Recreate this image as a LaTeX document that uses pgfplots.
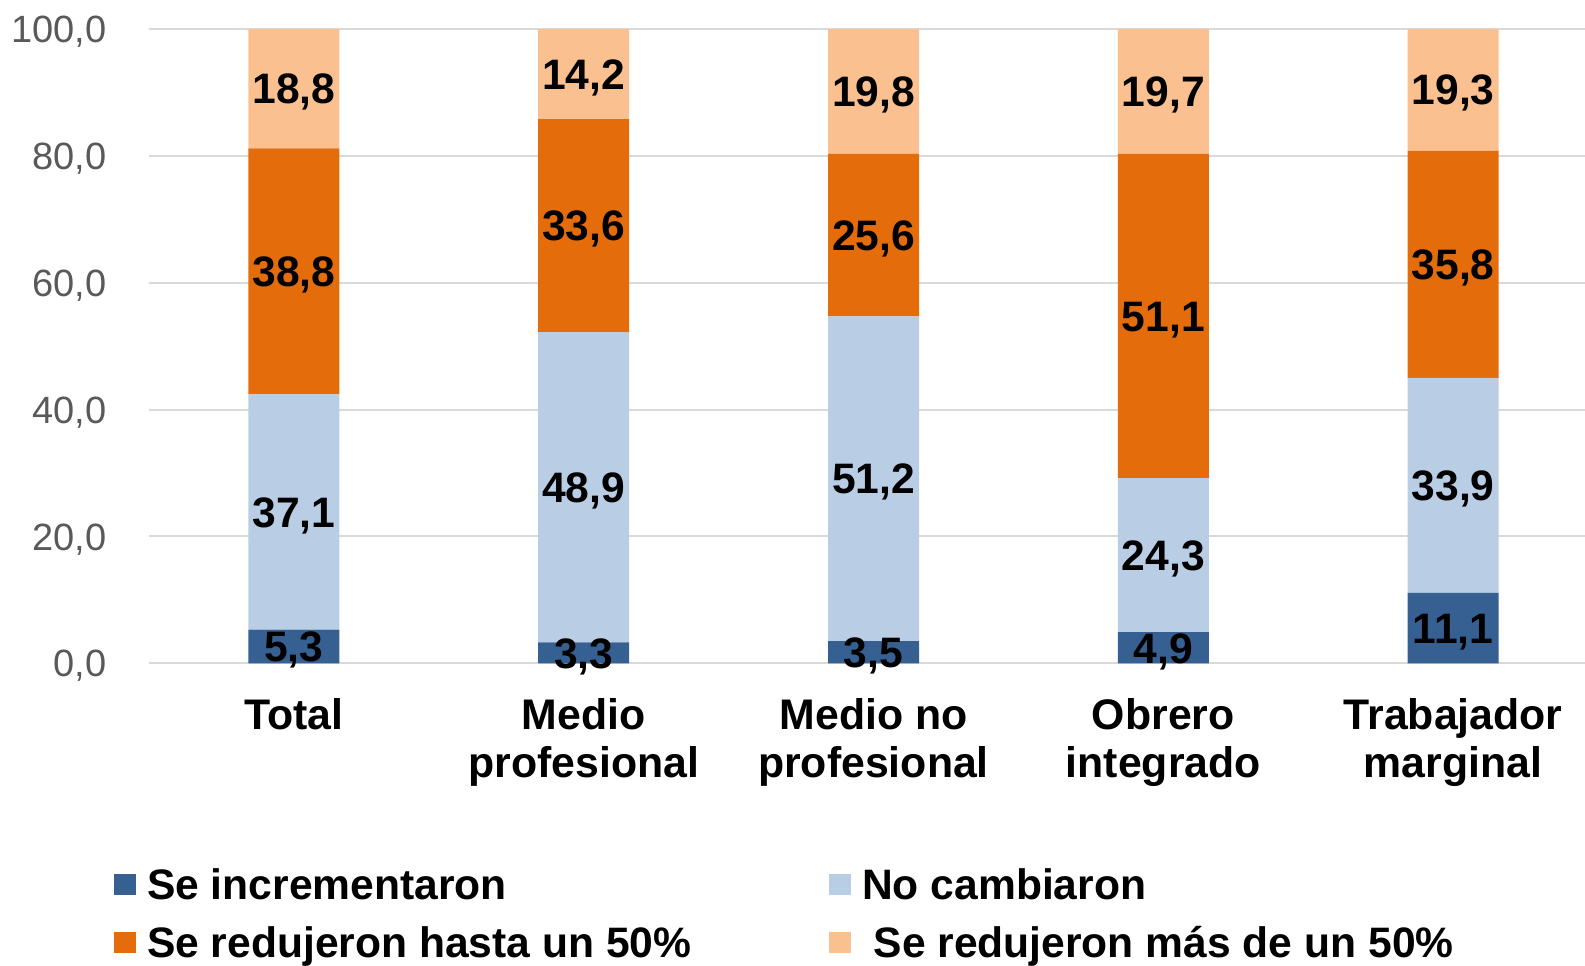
\documentclass[border=0pt]{standalone}
\usepackage{pgfplots}
\pgfplotsset{compat=1.18}
\usepackage{fontspec}
\setmainfont{Liberation Sans}
\definecolor{c1}{HTML}{376092}
\definecolor{c2}{HTML}{B9CDE5}
\definecolor{c3}{HTML}{E46C0A}
\definecolor{c4}{HTML}{FAC090}
\definecolor{tickgray}{HTML}{595959}
\definecolor{gridgray}{HTML}{D9D9D9}
\begin{document}
\begin{tikzpicture}
\pgfplotsset{
  common/.style={
    scale only axis, width=718pt, height=317.15pt,
    xmin=-0.5, xmax=4.455, ymin=0, ymax=100,
    at={(0pt,0pt)}, anchor=south west,
    /pgf/number format/assume math mode=true,
  }
}
\path[use as bounding box] (-74.5pt,-150.85pt) rectangle (718pt,331.65pt);
\begin{axis}[common,
  ybar stacked, bar width=45.5pt,
  axis line style={draw=none},
  major tick length=0pt,
  ymajorgrids, grid style={gridgray, line width=1pt},
  ytick={0,20,40,60,80,100},
  yticklabel style={font=\fontsize{19}{21}\selectfont, text=tickgray, inner sep=0pt, anchor=east, xshift=-21pt, text height=13.6pt, text depth=0pt},
  yticklabel={\pgfmathprintnumber[fixed,fixed zerofill,precision=1,use comma]{\tick}},
  xtick={0,1,2,3,4},
  xticklabels={Total, {Medio\\profesional}, {Medio no\\profesional}, {Obrero\\integrado}, {Trabajador\\marginal}},
  xticklabel style={font=\bfseries\fontsize{21.4}{24.2}\selectfont, align=center, inner sep=0pt, anchor=north, yshift=-17.4pt},
  legend columns=2,
  legend cell align=left,
  legend style={draw=none, fill=none, at={(axis description cs:-0.02416,-0.32464)}, anchor=north west, inner sep=0pt, outer sep=0pt, column sep=0pt, row sep=13.75pt, font=\bfseries\fontsize{21.3}{24}\selectfont, nodes={inner sep=0pt, text height=15.25pt, text depth=0pt}},
  legend image code/.code={\fill[#1] (0pt,-5.375pt) rectangle (10.75pt,5.375pt);},
]
\addplot[fill=c1, draw=none] coordinates {(0,5.3) (1,3.3) (2,3.5) (3,4.9) (4,11.1)};
\addlegendentry{\hspace{5.6pt}\makebox[341.05pt][l]{Se incrementaron}}
\addplot[fill=c2, draw=none] coordinates {(0,37.1) (1,48.9) (2,51.2) (3,24.3) (4,33.9)};
\addlegendentry{\hspace{5.8pt}No cambiaron}
\addplot[fill=c3, draw=none] coordinates {(0,38.8) (1,33.6) (2,25.6) (3,51.1) (4,35.8)};
\addlegendentry{\hspace{5.6pt}\makebox[341.05pt][l]{Se redujeron hasta un 50\%}}
\addplot[fill=c4, draw=none] coordinates {(0,18.8) (1,14.2) (2,19.8) (3,19.7) (4,19.3)};
\addlegendentry{\hspace{11.5pt}Se redujeron más de un 50\%}
\end{axis}
\begin{axis}[common, hide axis, clip=false,
  point meta=explicit,
  nodes near coords={\pgfmathprintnumber[fixed,fixed zerofill,precision=1,use comma]{\pgfplotspointmeta}},
  every node near coord/.append style={anchor=center, font=\bfseries\fontsize{21.3}{24}\selectfont, text=black, inner sep=0pt, text height=15.25pt, text depth=0pt},
]
\addplot[only marks, mark=*, mark size=0pt, mark options={draw=none, fill=none}] coordinates {
 (0,2.65) [5.3] (0,23.85) [37.1] (0,61.8) [38.8] (0,90.6) [18.8]
 (1,1.65) [3.3] (1,27.75) [48.9] (1,69.0) [33.6] (1,92.9) [14.2]
 (2,1.75) [3.5] (2,29.1) [51.2] (2,67.5) [25.6] (2,90.2) [19.8]
 (3,2.45) [4.9] (3,17.05) [24.3] (3,54.75) [51.1] (3,90.15) [19.7]
 (4,5.55) [11.1] (4,28.05) [33.9] (4,62.9) [35.8] (4,90.45) [19.3]
};
\end{axis}
\end{tikzpicture}
\end{document}
